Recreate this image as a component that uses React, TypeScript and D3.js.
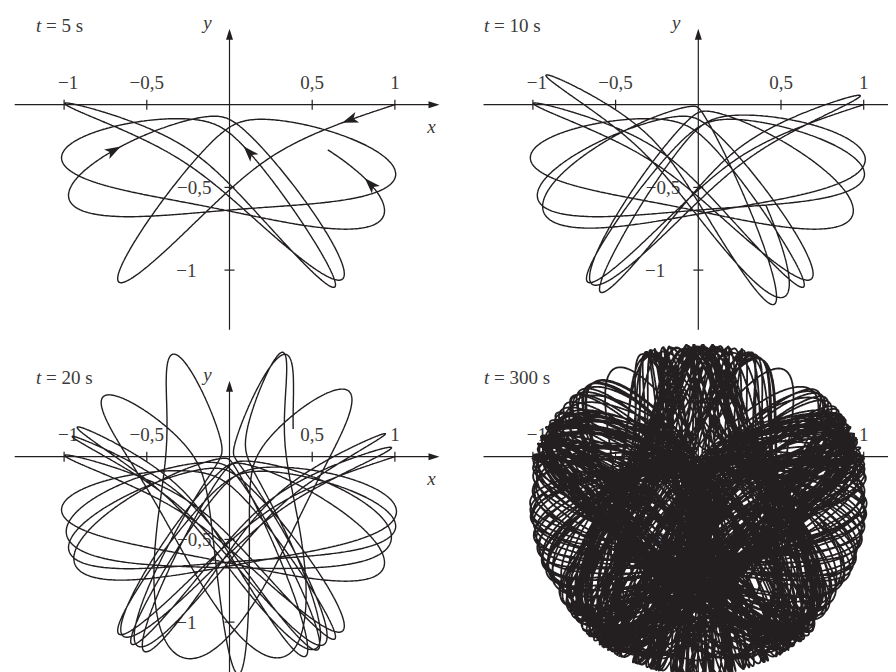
import React, { useMemo } from 'react';
import * as d3 from 'd3';

// Elastic pendulum: released at rest from (1, 0)
const panelTimes = [5, 10, 20, 300];
const panelNames = ['5', '10', '20', '300'];
const startState = [1, 0, 0, 0]; // x, y, vx, vy
const restLength = 0.5;
const staticStretch = 0.16; // m g / k
const gravity = 9.81;

const xTicks = [-1, -0.5, 0.5, 1];
const xTickLabels = ['−1', '−0,5', '0,5', '1'];
const yTicks = [-0.5, -1];
const yTickLabels = ['−0,5', '−1'];

// arrows on the first panel: approximate spot and heading
const arrowSpots = [[0.72, -0.1], [-0.69, -0.28], [0.115, -0.28], [0.86, -0.46]];
const arrowHeadings = [[-1, -0.4], [1, 0.7], [-0.5, 1], [-0.5, 1]];

const W = 896;
const H = 672;
const SCALE = 165.4;
const origins = [[221.5, 96.7], [690.3, 96.7], [221.5, 448.7], [690.3, 448.7]];
const quads = [[0, 0], [448, 0], [0, 336], [448, 336]];
const FONT = "'Liberation Serif', 'DejaVu Serif', serif";
const INK = '#231f20';

const DT = 0.001;
const KEEP = 2;

function simulate(T: number) {
  const w2 = gravity / staticStretch;
  let [x, y, vx, vy] = startState;
  const pts: [number, number][] = [[x, y]];
  const acc = (px: number, py: number) => {
    const r = Math.hypot(px, py);
    const k = w2 * (1 - restLength / r);
    return [-k * px, -k * py - gravity];
  };
  const n = Math.round(T / DT);
  for (let i = 0; i < n; i++) {
    const [a1x, a1y] = acc(x, y);
    const [a2x, a2y] = acc(x + DT / 2 * vx, y + DT / 2 * vy);
    const v2x = vx + DT / 2 * a1x, v2y = vy + DT / 2 * a1y;
    const [a3x, a3y] = acc(x + DT / 2 * v2x, y + DT / 2 * v2y);
    const v3x = vx + DT / 2 * a2x, v3y = vy + DT / 2 * a2y;
    const [a4x, a4y] = acc(x + DT * v3x, y + DT * v3y);
    const v4x = vx + DT * a3x, v4y = vy + DT * a3y;
    x += DT / 6 * (vx + 2 * v2x + 2 * v3x + v4x);
    y += DT / 6 * (vy + 2 * v2y + 2 * v3y + v4y);
    vx += DT / 6 * (a1x + 2 * a2x + 2 * a3x + a4x);
    vy += DT / 6 * (a1y + 2 * a2y + 2 * a3y + a4y);
    if (i % KEEP === KEEP - 1) pts.push([x, y]);
  }
  return pts;
}

function Panel({ idx, pts }: { idx: number; pts: [number, number][] }) {
  const [ox, oy] = origins[idx];
  const [qx, qy] = quads[idx];
  const x = d3.scaleLinear().domain([0, 1]).range([ox, ox + SCALE]);
  const y = d3.scaleLinear().domain([0, 1]).range([oy, oy - SCALE]);
  const T = panelTimes[idx];
  const n = Math.min(pts.length, Math.round(T / (DT * KEEP)) + 1);
  const sub = pts.slice(0, n);
  const line = d3.line<[number, number]>()
    .x(d => Math.round(x(d[0]) * 10) / 10)
    .y(d => Math.round(y(d[1]) * 10) / 10);

  const arrows: JSX.Element[] = [];
  if (idx === 0) {
    arrowSpots.forEach((sp, k) => {
      const hd = arrowHeadings[k];
      let bi = 0;
      let bd = Infinity;
      for (let i = 1; i < sub.length - 1; i++) {
        const tx = sub[i + 1][0] - sub[i - 1][0];
        const ty = sub[i + 1][1] - sub[i - 1][1];
        if (tx * hd[0] + ty * hd[1] <= 0) continue;
        const d = Math.hypot(sub[i][0] - sp[0], sub[i][1] - sp[1]);
        if (d < bd) { bd = d; bi = i; }
      }
      const p = sub[bi];
      const q = sub[Math.min(bi + 3, sub.length - 1)];
      const ang = Math.atan2(y(q[1]) - y(p[1]), x(q[0]) - x(p[0])) * 180 / Math.PI;
      arrows.push(
        <path key={k} d="M7,0 L-9,-5.5 L-5,0 L-9,5.5 Z" fill={INK}
          transform={`translate(${x(p[0])},${y(p[1])}) rotate(${ang})`} />
      );
    });
  }

  const axX0 = ox - 214.8;
  const axX1 = ox + 210;
  const axY0 = oy - 76;
  const axY1 = oy + 225;

  return (
    <g>
      <clipPath id={`clip${idx}`}>
        <rect x={qx} y={qy} width={448} height={336} />
      </clipPath>
      <g clipPath={`url(#clip${idx})`}>
        <line x1={axX0} x2={axX1 - 6} y1={oy} y2={oy} stroke={INK} strokeWidth={1.2} />
        <path d={`M${axX1},${oy} L${axX1 - 11},${oy - 3.5} L${axX1 - 11},${oy + 3.5} Z`} fill={INK} />
        <line x1={ox} x2={ox} y1={axY0 + 6} y2={axY1} stroke={INK} strokeWidth={1.2} />
        <path d={`M${ox},${axY0} L${ox - 3.5},${axY0 + 11} L${ox + 3.5},${axY0 + 11} Z`} fill={INK} />
        {xTicks.map(t => (
          <line key={t} x1={x(t)} x2={x(t)} y1={oy - 5} y2={oy + 5} stroke={INK} strokeWidth={1.2} />
        ))}
        {yTicks.map(t => (
          <line key={t} x1={ox - 5} x2={ox + 5} y1={y(t)} y2={y(t)} stroke={INK} strokeWidth={1.2} />
        ))}
        <g fontFamily={FONT} fontSize={19} fill="#3c3a3a">
          {xTicks.map((t, i) => (
            <text key={t} x={x(t) + (t === -1 ? 4 : 0)} y={oy - 16} textAnchor="middle">{xTickLabels[i]}</text>
          ))}
          {yTicks.map((t, i) => (
            <text key={t} x={ox - (t === -1 ? 33 : 18)} y={y(t) + 7} textAnchor="end">{yTickLabels[i]}</text>
          ))}
          <text x={ox + 202} y={oy + 28} fontStyle="italic" textAnchor="middle">x</text>
          <text x={ox - 22} y={oy - 76} fontStyle="italic" textAnchor="middle">y</text>
          <text x={qx + 28} y={qy + (idx < 2 ? 24 : 40)}>
            <tspan fontStyle="italic">t</tspan> = {panelNames[idx]} s
          </text>
        </g>
        <path d={line(sub) || ''} fill="none" stroke={INK} strokeWidth={T > 100 ? 1.8 : 1.4}
          strokeLinejoin="round" />
        {arrows}
      </g>
    </g>
  );
}

export default function App() {
  const pts = useMemo(() => simulate(panelTimes[panelTimes.length - 1]), []);
  return (
    <svg width={W} height={H} style={{ display: 'block', background: '#fff' }}>
      {panelTimes.map((_, i) => (
        <Panel key={i} idx={i} pts={pts} />
      ))}
    </svg>
  );
}
